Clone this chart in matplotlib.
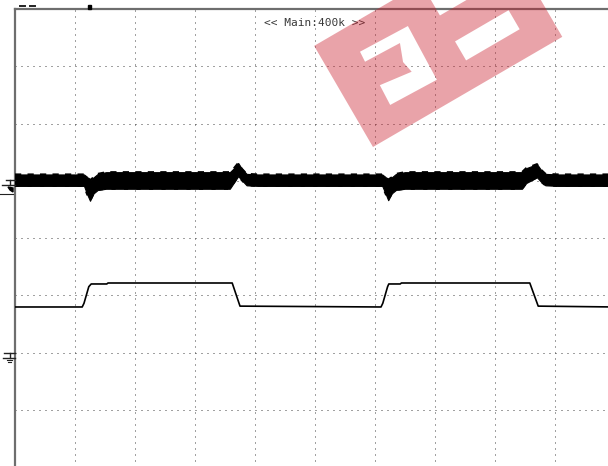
import numpy as np
import matplotlib
matplotlib.use("Agg")
import matplotlib.pyplot as plt
from matplotlib.lines import Line2D
from matplotlib.patches import PathPatch, Polygon
from matplotlib.path import Path
from matplotlib.transforms import Affine2D

# scope screen in divisions: 10 across, 8 down, centre line = 0
# channel 1 (noisy band) envelope
ch1_t = [0, 1.15, 1.20, 1.25, 1.31, 1.38, 1.52, 3.58, 3.65, 3.72, 3.78, 3.86, 4.05,
         6.12, 6.17, 6.22, 6.28, 6.35, 6.50, 8.45, 8.52, 8.70, 8.76, 8.84, 9.05, 10]
ch1_top = [1.11, 1.11, 1.07, 1.01, 1.06, 1.12, 1.15, 1.15, 1.22, 1.31, 1.21, 1.12, 1.11,
           1.11, 1.07, 1.02, 1.06, 1.12, 1.15, 1.15, 1.22, 1.29, 1.20, 1.12, 1.11, 1.11]
ch1_bot = [0.91, 0.91, 0.77, 0.65, 0.78, 0.84, 0.86, 0.86, 0.97, 1.08, 1.01, 0.92, 0.91,
           0.91, 0.79, 0.66, 0.78, 0.84, 0.86, 0.86, 0.96, 1.06, 0.99, 0.92, 0.91, 0.91]

# channel 2 (gate pulse)
ch2_t = [0, 1.12, 1.15, 1.23, 1.27, 1.53, 1.55, 3.62, 3.75,
         6.10, 6.13, 6.21, 6.23, 6.42, 6.44, 8.58, 8.72, 10]
ch2_v = [-1.205, -1.205, -1.14, -0.85, -0.803, -0.803, -0.786, -0.786, -1.19,
         -1.205, -1.14, -0.85, -0.803, -0.803, -0.786, -0.786, -1.19, -1.205]

header = "<< Main:400k >>"

fig = plt.figure(figsize=(6.08, 4.66), dpi=100)
ax = fig.add_axes([15 / 608, -1 / 466, 600 / 608, 458 / 466])
ax.set_xlim(0, 10)
ax.set_ylim(-4, 4)
ax.set_xticks(range(11))
ax.set_yticks(range(-4, 5))
ax.tick_params(length=0, labelbottom=False, labelleft=False)
ax.grid(True, linestyle=(0, (1, 5)), linewidth=0.72, color="#444444")
for side in ["right", "bottom"]:
    ax.spines[side].set_visible(False)
for side in ["left", "top"]:
    ax.spines[side].set_color("#6e6e6e")
    ax.spines[side].set_linewidth(1.6)

ax.fill_between(ch1_t, ch1_bot, ch1_top, color="black", lw=0.8, zorder=3)
# ragged noise edge on the band
ax.plot(ch1_t, ch1_top, color="black", lw=1.5, dashes=(3, 3), zorder=3)
ax.plot(ch1_t, ch1_bot, color="black", lw=1.5, dashes=(2, 4), zorder=3)
ax.plot(ch2_t, ch2_v, color="black", lw=1.2, zorder=3)

ax.text(5, 3.76, header, ha="center", va="center", fontsize=8,
        family="DejaVu Sans Mono", color="#3a3a3a", zorder=4,
        bbox=dict(facecolor="white", edgecolor="none", pad=0.5))

# pixel transform (image coords, y down)
px = Affine2D().scale(1, -1).translate(0, 466).scale(1 / 608, 1 / 466) + fig.transFigure


def seg(x0, y0, x1, y1, lw=1.0, color="#222222"):
    fig.add_artist(Line2D([x0, x1], [y0, y1], transform=px, lw=lw, color=color))


# channel markers on the left edge
seg(6, 180, 15, 180)
seg(10, 180, 10, 185)
seg(2, 185, 15, 185)
fig.add_artist(Polygon([[8, 187], [13, 188], [13, 192], [10, 190]], closed=True,
                       transform=px, color="black"))
seg(0, 194, 13, 194, lw=0.8)
seg(4, 352.5, 15, 352.5)
seg(10, 352.5, 10, 358)
seg(3, 358, 15, 358)
seg(7, 360, 12, 360, lw=0.8)
seg(8, 362, 11, 362, lw=0.8)

# top marks
seg(20, 6, 25, 6, lw=1.4)
seg(30, 6, 35, 6, lw=1.4)
fig.add_artist(Polygon([[88, 5], [91, 5], [91, 9], [88, 9]], closed=True,
                       transform=px, color="black"))

# watermark: rotated translucent block with cut-outs
th = np.deg2rad(30.2)
A = np.array([373.0, 147.0])
ud = np.array([np.cos(th), -np.sin(th)])
vd = np.array([-np.sin(th), -np.cos(th)])


def to_img(pts):
    return [A + u * ud + v * vd for u, v in pts]


outer = [(0, 0), (219, 0), (219, 117), (0, 117)]
holes = [
    [(36.7, 88.9), (36, 77.7), (75.6, 76.3), (68.7, 58.3), (71.3, 45.6),
     (37, 50), (36, 27.7), (89, 26), (91, 87)][::-1],
    [(124, 28), (124, 50), (186, 50), (186, 28)],
    [(124, 80), (124, 98), (186, 98), (186, 80)],
]
verts, codes = [], []
for poly in [outer] + holes:
    p = to_img(poly)
    verts += p + [p[0]]
    codes += [Path.MOVETO] + [Path.LINETO] * (len(p) - 1) + [Path.CLOSEPOLY]
wm = PathPatch(Path(verts, codes), transform=px, facecolor=(0.785, 0.1, 0.16),
               edgecolor="none", alpha=0.4, zorder=10)
fig.add_artist(wm)

fig.savefig("out.png", dpi=100)
